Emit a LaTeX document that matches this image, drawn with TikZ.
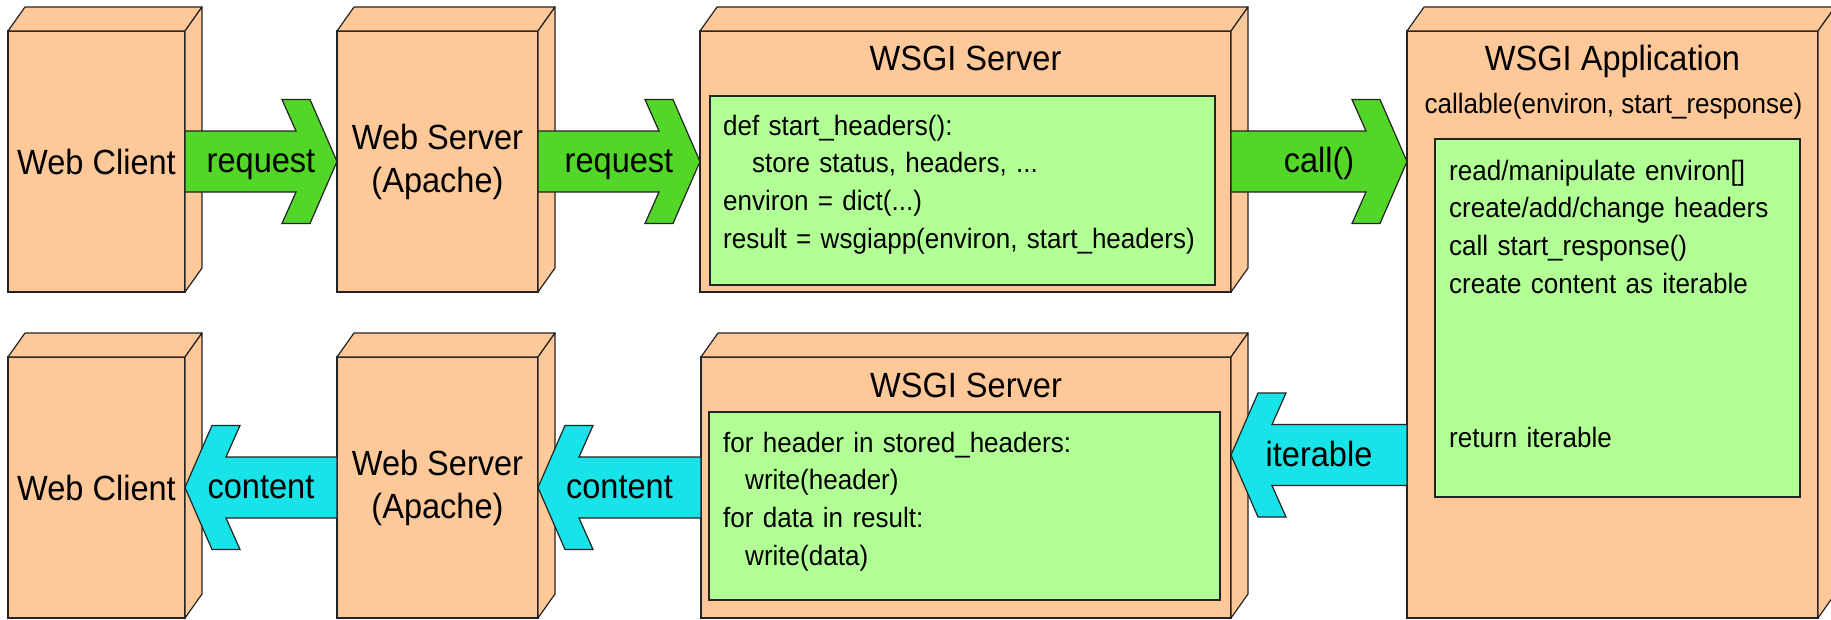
\documentclass[tikz,border=0pt]{standalone}
\usepackage{fontspec}
\setmainfont[FakeStretch=0.93]{Liberation Sans}
\usetikzlibrary{calc}
\definecolor{boxfill}{RGB}{255,200,153}
\definecolor{innerfill}{RGB}{178,255,150}
\definecolor{reqgreen}{RGB}{82,214,40}
\definecolor{respcyan}{RGB}{24,227,232}
\definecolor{edgec}{RGB}{35,35,35}
\tikzset{
  x=1pt, y=-1pt,
  front/.style={draw=edgec, fill=boxfill, line width=1.2pt, inner sep=0pt, outer sep=0pt,
                minimum height=261pt, align=center, font=\fontsize{35}{43}\selectfont},
  innerbox/.style={draw=edgec, fill=innerfill, line width=1.2pt, inner sep=0pt, outer sep=0pt},
  depthface/.style={draw=edgec, fill=boxfill, line width=1.2pt, line join=round},
  titletext/.style={font=\fontsize{35}{40}\selectfont, inner sep=0pt, anchor=base},
  subtitle/.style={font=\fontsize{28}{32}\selectfont, inner sep=0pt, anchor=base},
  code/.style={font=\fontsize{28}{37.7}\selectfont, inner sep=0pt, anchor=base west,
               text width=480pt, align=left},
  arrowlabel/.style={font=\fontsize{35}{40}\selectfont, inner sep=0pt, anchor=base},
  blockarrow/.style={draw=edgec, line width=1.2pt, line join=miter}
}
% 3D top and side faces of a front-face node
\newcommand\boxdepth[1]{%
  \filldraw[depthface] (#1.north west) -- ($(#1.north west)+(17,-24)$)
     -- ($(#1.north east)+(17,-24)$) -- (#1.north east) -- cycle;
  \filldraw[depthface] (#1.north east) -- ($(#1.north east)+(17,-24)$)
     -- ($(#1.south east)+(17,-24)$) -- (#1.south east) -- cycle;
}
% block arrow: #1 base point, #2 tip point, #3 fill colour, #4 direction (1 right, -1 left)
\newcommand\blockarr[4]{%
  \filldraw[blockarrow, fill=#3] let \p1=#1, \p2=#2 in
    ({\x1},{\y1+30.5pt}) -- ({\x2-(#4)*41pt},{\y1+30.5pt}) -- ({\x2-(#4)*55pt},{\y1+62pt})
    -- ({\x2-(#4)*27pt},{\y1+62pt}) -- ({\x2},{\y1}) -- ({\x2-(#4)*27pt},{\y1-62pt})
    -- ({\x2-(#4)*55pt},{\y1-62pt}) -- ({\x2-(#4)*41pt},{\y1-30.5pt}) -- ({\x1},{\y1-30.5pt}) -- cycle;
}
\begin{document}
\begin{tikzpicture}
\useasboundingbox (0,0) rectangle (1831,619);
\fill[white] (0,0) rectangle (1831,619);
\clip (0,0) rectangle (1831,619);

% ---------- row 1 ----------
\node[front, minimum width=177pt] (wc1) at (96.5,161.5) {Web Client};
\boxdepth{wc1}
\node[front, minimum width=201pt] (ws1) at (437.5,161.5) {Web Server\\(Apache)};
\boxdepth{ws1}
\node[front, minimum width=531pt] (wsgi1) at (965.5,161.5) {};
\boxdepth{wsgi1}
\node[innerbox, minimum width=505pt, minimum height=189pt] (g1) at (962.5,190.5) {};
\node[titletext] (t1) at (965.5,70) {WSGI Server};
\node[code] (c1) at (723,135) {def start\_headers():\\
  \hspace*{29pt}store status, headers, ...\\
  environ = dict(...)\\
  result = wsgiapp(environ, start\_headers)};

% WSGI application (spans both rows)
\node[front, minimum width=411pt, minimum height=587pt] (app) at (1612.5,324.5) {};
\boxdepth{app}
\node[innerbox, minimum width=365pt, minimum height=358pt] (g3) at (1617.5,318) {};
\node[titletext] (t3) at (1612.5,70) {WSGI Application};
\node[subtitle] (t3b) at (1613.5,113) {callable(environ, start\_response)};
\node[code, text width=345pt] (c3) at (1449,180) {read/manipulate environ[]\\
  create/add/change headers\\
  call start\_response()\\
  create content as iterable};
\node[code, text width=345pt] (c4) at (1449,447) {return iterable};

% ---------- row 2 ----------
\node[front, minimum width=177pt] (wc2) at (96.5,487.5) {Web Client};
\boxdepth{wc2}
\node[front, minimum width=201pt] (ws2) at (437.5,487.5) {Web Server\\(Apache)};
\boxdepth{ws2}
\node[front, minimum width=530pt] (wsgi2) at (966,487.5) {};
\boxdepth{wsgi2}
\node[innerbox, minimum width=511pt, minimum height=188pt] (g2) at (964.5,506) {};
\node[titletext] (t2) at (966,397) {WSGI Server};
\node[code] (c2) at (723,452) {for header in stored\_headers:\\
  \hspace*{22pt}write(header)\\
  for data in result:\\
  \hspace*{22pt}write(data)};

% ---------- block arrows ----------
\blockarr{(wc1.east)}{(ws1.west)}{reqgreen}{1}
\node[arrowlabel] (l1) at ($(wc1.east)!0.5!(ws1.west)+(0,11)$) {request};
\blockarr{(ws1.east)}{(wsgi1.west)}{reqgreen}{1}
\node[arrowlabel] (l2) at ($(ws1.east)!0.5!(wsgi1.west)+(0,11)$) {request};
\coordinate (calltip) at (app.west |- wsgi1.east);
\blockarr{(wsgi1.east)}{(calltip)}{reqgreen}{1}
\node[arrowlabel] (l3) at ($(wsgi1.east)!0.5!(calltip)+(0,11)$) {call()};

\coordinate (itaxis) at (0,455);
\coordinate (itbase) at (app.west |- itaxis);
\coordinate (ittip) at (wsgi2.east |- itaxis);
\blockarr{(itbase)}{(ittip)}{respcyan}{-1}
\node[arrowlabel] (l4) at ($(itbase)!0.5!(ittip)+(0,11)$) {iterable};
\blockarr{(wsgi2.west)}{(ws2.east)}{respcyan}{-1}
\node[arrowlabel] (l5) at ($(wsgi2.west)!0.5!(ws2.east)+(0,11)$) {content};
\blockarr{(ws2.west)}{(wc2.east)}{respcyan}{-1}
\node[arrowlabel] (l6) at ($(ws2.west)!0.5!(wc2.east)+(0,11)$) {content};
\end{tikzpicture}
\end{document}
